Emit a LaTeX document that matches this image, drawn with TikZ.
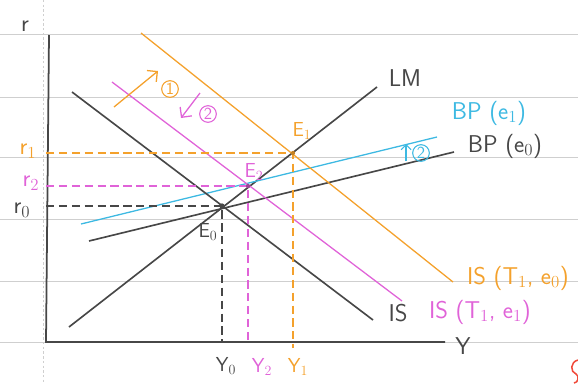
\documentclass[tikz,border=0pt]{standalone}
\usepackage{amsmath}
\usepackage{xcolor}
\usepackage{tikz}
\usetikzlibrary{calc,arrows.meta,positioning}
\definecolor{inkx}{HTML}{474747}
\definecolor{orangex}{HTML}{F4A12C}
\definecolor{magx}{HTML}{E063D8}
\definecolor{cyanx}{HTML}{3DB9E2}
\definecolor{rulex}{HTML}{CFCFCF}
\definecolor{redx}{HTML}{F04A3A}
\tikzset{
  rule/.style={rulex,line width=0.7pt},
  ax/.style={inkx,line width=1.5pt},
  crv/.style={line width=1.4pt},
  dsh/.style={line width=1pt,dash pattern=on 7pt off 4pt},
  ar/.style={-{Straight Barb[length=2.2mm]},line width=1.1pt},
  lbl/.style={font=\sffamily\huge,inner sep=1pt},
  sml/.style={font=\sffamily\LARGE,inner sep=1pt},
  num/.style={circle,draw,line width=0.9pt,inner sep=0.8pt,font=\sffamily\Large},
  dot/.style={circle,fill,inner sep=1.6pt}
}

\begin{document}
\begin{tikzpicture}[x=0.3mm,y=-0.3mm]
\useasboundingbox (0,0) rectangle (578,383);
% ruled paper
\foreach \yy in {34,97,157,219,281,342}
  \draw[rule] (0,\yy) -- (578,\yy);
\draw[rulex,line width=0.5pt,dash pattern=on 2pt off 2pt] (43,0) -- (43,383);
\draw[redx,line width=1.3pt] (578,360) .. controls (570,362) and (570,372) .. (576,374) .. controls (580,376) and (578,383) .. (574,383);
% axes
\coordinate (ytop) at (49,35);
\coordinate (org) at (46,342);
\coordinate (xend) at (445,342);
\draw[ax] (ytop) -- (org) -- (xend);
\node[lbl,inkx] (rlbl) at (25,26) {r};
\node[lbl,inkx] (ylbl) at (463,346) {Y};
% equilibria
\coordinate (e0) at (222,206);
\coordinate (e2) at (248,186);
\coordinate (e1) at (293,153);
% LM and BP
\coordinate (lmA) at (69,327);
\coordinate (lmB) at (377,87);
\draw[crv,inkx] (lmA) -- (lmB);
\node[lbl,inkx] (lmlbl) at (405,78) {LM};
\coordinate (bp0A) at (89,241);
\coordinate (bp0B) at (454,152);
\draw[crv,inkx] (bp0A) -- (bp0B);
\node[lbl,inkx] (bp0lbl) at (505,146) {BP (e$_0$)};
\coordinate (bp1A) at (81,224);
\coordinate (bp1B) at (437,137);
\draw[crv,cyanx,line width=1.1pt] (bp1A) -- (bp1B);
\node[lbl,cyanx] (bp1lbl) at (489,113) {BP (e$_1$)};
\coordinate (up2A) at (406,161);
\coordinate (up2B) at (406,144);
\draw[ar,cyanx,line width=0.9pt,-{Straight Barb[length=1.5mm]}] (up2A) -- (up2B);
\node[num,cyanx] (c2b) at (421,153) {2};
% IS curves
\coordinate (is0A) at (72,92);
\coordinate (is0B) at (373,320);
\draw[crv,inkx] (is0A) -- (is0B);
\node[lbl,inkx] (is0lbl) at (398,313) {IS};
\coordinate (is1A) at (141,33);
\coordinate (is1B) at (453,282);
\draw[crv,orangex,line width=1.1pt] (is1A) -- (is1B);
\node[lbl,orangex] (is1lbl) at (518,278) {IS (T$_1$, e$_0$)};
\coordinate (is2A) at (112,82);
\coordinate (is2B) at (402,301);
\draw[crv,magx,line width=1.1pt] (is2A) -- (is2B);
\node[lbl,magx] (is2lbl) at (480,312) {IS (T$_1$, e$_1$)};
% shifts
\coordinate (sh1A) at (114,107);
\coordinate (sh1B) at (158,71);
\draw[ar,orangex] (sh1A) -- (sh1B);
\node[num,orangex] (c1) at (170,89) {1};
\coordinate (sh2A) at (200,93);
\coordinate (sh2B) at (181,118);
\draw[ar,magx] (sh2A) -- (sh2B);
\node[num,magx] (c2) at (208,114) {2};
% guide lines
\draw[dsh,inkx] (e0 -| org) -- (e0) -- (e0 |- org);
\draw[dsh,magx] (e2 -| org) -- (e2) -- (e2 |- org);
\draw[dsh,orangex] (e1 -| org) -- (e1) -- ($(e1 |- org)+(0,6)$);
\node[dot,inkx] (p0) at (e0) {};
\node[dot,magx!70!black,inner sep=1.3pt] (p2) at (e2) {};
\node[dot,orangex!80!black,inner sep=1.3pt] (p1) at (e1) {};
\node[sml,inkx] (e0lbl) at (208,232) {E$_0$};
\node[sml,magx] (e2lbl) at (254,172) {E$_2$};
\node[sml,orangex] (e1lbl) at (302,131) {E$_1$};
% axis values
\node[lbl,orangex] (r1lbl) at (28,151) {r$_1$};
\node[lbl,magx] (r2lbl) at (31,183) {r$_2$};
\node[lbl,inkx] (r0lbl) at (22,210) {r$_0$};
\node[sml,inkx] (y0lbl) at (226,366) {Y$_0$};
\node[sml,magx] (y2lbl) at (262,367) {Y$_2$};
\node[sml,orangex] (y1lbl) at (298,367) {Y$_1$};
\end{tikzpicture}
\end{document}
